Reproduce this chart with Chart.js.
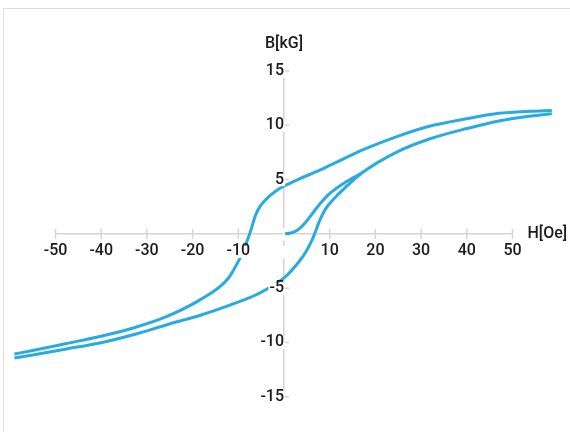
<!DOCTYPE html>
<html>
<head>
<meta charset="utf-8">
<script src="https://cdn.jsdelivr.net/npm/chart.js@4.4.1/dist/chart.umd.min.js"></script>
<style>
  html, body { margin: 0; padding: 0; background: #fff; }
  #wrap { position: relative; width: 570px; height: 432px; overflow: hidden; }
  #frame { position: absolute; left: 3px; top: 8px; width: 620px; height: 500px; border: 1px solid #dddddd; }
  canvas { position: absolute; left: 0; top: 0; }
</style>
</head>
<body>
<div id="wrap">
  <div id="frame"></div>
  <canvas id="bhChart" width="570" height="432"></canvas>
</div>
<script>
// B-H hysteresis loop, H in Oe, B in kG
var upperH = [-59, -55, -47.6, -40.3, -33, -25.6, -18.3, -12.4, -10.6, -9.1, -7.5, -6.2, -5.2, -4.0, -1.8, 0, 3.4, 6.9, 10, 17.6, 25, 32, 40, 47, 54, 58.6];
var upperB = [-11.07, -10.75, -10.1, -9.45, -8.67, -7.6, -6.06, -4.2, -3.0, -1.75, 0, 1.75, 2.55, 3.15, 3.95, 4.4, 5.07, 5.7, 6.3, 7.8, 9.0, 9.93, 10.6, 11.1, 11.3, 11.37];

var lowerH = [-59, -55, -47.6, -40.3, -33, -25.6, -18.3, -9.5, -6.2, 0, 3.4, 5, 6.2, 6.7, 7.66, 9.1, 11.3, 13.5, 17, 25, 32, 40, 47, 54, 58.6];
var lowerB = [-11.44, -11.15, -10.6, -10.05, -9.3, -8.37, -7.5, -6.2, -5.63, -4.06, -2.5, -1.5, -0.5, 0, 1.08, 2.3, 3.4, 4.3, 5.6, 7.6, 8.76, 9.7, 10.4, 10.85, 11.07];

var initH = [0, 1.5, 3, 4.5, 6, 7.66, 9.85, 13.5, 17];
var initB = [0, 0.08, 0.35, 0.95, 1.75, 2.65, 3.65, 4.77, 5.6];

var xTitle = "H[Oe]";
var yTitle = "B[kG]";

var lineColor = "#29abe2";
var axisColor = "#d4d4d4";
var textColor = "#1a1a1a";
var fontFamily = "Roboto, 'Noto Sans', sans-serif";

function toPoints(hs, bs) {
  return hs.map(function(h, i) { return { x: h, y: bs[i] }; });
}

function branch(hs, bs) {
  return {
    data: toPoints(hs, bs),
    showLine: true,
    borderColor: lineColor,
    borderWidth: 3,
    pointRadius: 0,
    cubicInterpolationMode: "monotone",
    clip: false
  };
}

// ticks that cross the axis line, like the original
var crossTicks = {
  id: "crossTicks",
  beforeDatasetsDraw: function(chart) {
    var ctx = chart.ctx, xs = chart.scales.x, ys = chart.scales.y;
    var x0 = xs.getPixelForValue(0), y0 = ys.getPixelForValue(0);
    ctx.save();
    ctx.strokeStyle = axisColor;
    ctx.lineWidth = 1.5;
    ctx.beginPath();
    xs.ticks.forEach(function(t) {
      if (t.value === 0) return;
      var px = xs.getPixelForValue(t.value);
      ctx.moveTo(px, y0 - 5); ctx.lineTo(px, y0 + 5);
    });
    ys.ticks.forEach(function(t) {
      if (t.value === 0) return;
      var py = ys.getPixelForValue(t.value);
      ctx.moveTo(x0 - 5, py); ctx.lineTo(x0 + 5, py);
    });
    ctx.stroke();
    ctx.restore();
  }
};

var axisTitles = {
  id: "axisTitles",
  afterDraw: function(chart) {
    var ctx = chart.ctx, xs = chart.scales.x, ys = chart.scales.y;
    ctx.save();
    ctx.fillStyle = textColor;
    ctx.font = "500 16px " + fontFamily;
    ctx.textBaseline = "middle";
    ctx.textAlign = "center";
    ctx.fillText(yTitle, xs.getPixelForValue(0), ys.top - 27);
    ctx.textAlign = "left";
    ctx.fillText(xTitle, xs.right + 15, ys.getPixelForValue(0));
    ctx.restore();
  }
};

function hideZero(v) { return v === 0 ? "" : v; }

var tickFont = { size: 16, weight: "500", family: fontFamily };
var backdropPad = { top: -4, bottom: -3, left: 1, right: 1 };

new Chart(document.getElementById("bhChart"), {
  type: "scatter",
  data: {
    datasets: [branch(upperH, upperB), branch(lowerH, lowerB), branch(initH, initB)]
  },
  options: {
    responsive: false,
    animation: false,
    layout: { padding: { left: 55.5, right: 57.5, top: 71, bottom: 35.3 } },
    plugins: { legend: { display: false }, tooltip: { enabled: false } },
    scales: {
      x: {
        type: "linear",
        // range fixed here (not min/max) so the loop ends past ±50 still get drawn
        afterDataLimits: function(scale) { scale.min = -50; scale.max = 50; },
        position: { y: 0 },
        border: { color: axisColor, width: 1.5 },
        grid: { drawOnChartArea: false, tickLength: 5, color: "rgba(0,0,0,0)" },
        ticks: {
          stepSize: 10,
          callback: hideZero,
          color: textColor,
          padding: 3,
          maxRotation: 0,
          font: tickFont,
          showLabelBackdrop: true,
          backdropColor: "#ffffff",
          backdropPadding: backdropPad,
          z: 1
        }
      },
      y: {
        type: "linear",
        min: -15, max: 15,
        position: { x: 0 },
        border: { color: axisColor, width: 1.5 },
        grid: { drawOnChartArea: false, tickLength: 5, color: "rgba(0,0,0,0)" },
        ticks: {
          stepSize: 5,
          callback: hideZero,
          color: textColor,
          padding: 2,
          font: tickFont,
          showLabelBackdrop: true,
          backdropColor: "#ffffff",
          backdropPadding: backdropPad,
          z: 1
        }
      }
    }
  },
  plugins: [crossTicks, axisTitles]
});
</script>
</body>
</html>
